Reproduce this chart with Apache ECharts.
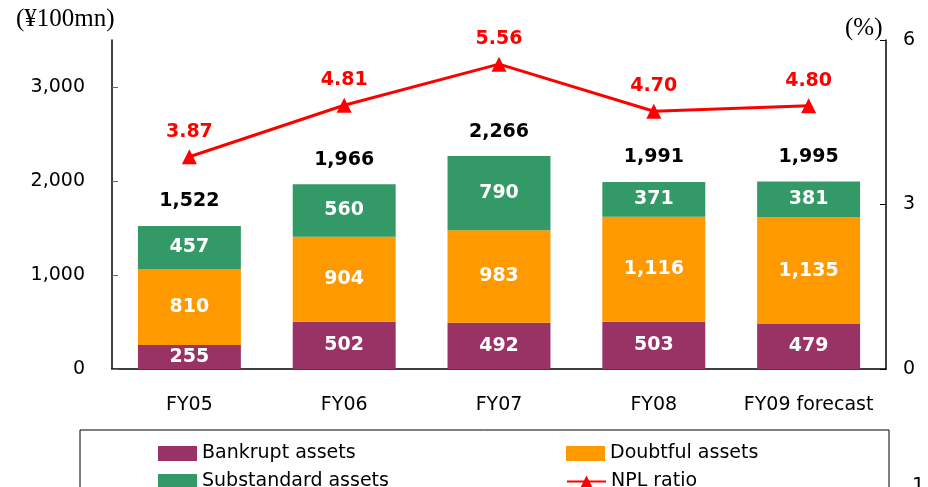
<!DOCTYPE html>
<html>
<head>
<meta charset="utf-8">
<script src="https://cdn.jsdelivr.net/npm/echarts@6/dist/echarts.min.js"></script>
<style>
  html, body { margin: 0; padding: 0; background: #fff; }
  #chart { width: 928px; height: 487px; }
</style>
</head>
<body>
<div id="chart"></div>
<script>
var categories = ['FY05', 'FY06', 'FY07', 'FY08', 'FY09 forecast'];
var bankrupt = [255, 502, 492, 503, 479];
var doubtful = [810, 904, 983, 1116, 1135];
var substandard = [457, 560, 790, 371, 381];
var totals = [1522, 1966, 2266, 1991, 1995];
var nplRatio = [3.87, 4.81, 5.56, 4.70, 4.80];

var gothic = '"DejaVu Sans", "Noto Sans", sans-serif';
var serif = '"Liberation Serif", "DejaVu Serif", serif';

function fmt(v) {
    return v.toLocaleString('en-US');
}

var chart = echarts.init(document.getElementById('chart'));

var innerLabel = {
    show: true,
    position: 'inside',
    color: '#fff',
    fontFamily: gothic,
    fontWeight: 'bold',
    fontSize: 19,
    padding: [3, 0, 0, 0],
    formatter: function (p) { return fmt(p.value); }
};

function legendItem(name, left, top, icon) {
    return {
        data: [name],
        left: left,
        top: top,
        icon: icon,
        itemWidth: 39,
        itemHeight: 15,
        itemGap: 0,
        textStyle: { fontFamily: gothic, fontSize: 19, color: '#000' },
        selectedMode: false
    };
}

var option = {
    animation: false,
    grid: { left: 112, right: 42, top: 40, bottom: 118 },
    legend: [
        legendItem('Bankrupt assets', 153, 439, 'rect'),
        legendItem('Doubtful assets', 561, 439, 'rect'),
        legendItem('Substandard assets', 153, 467, 'rect'),
        legendItem('NPL ratio', 561, 467)
    ],
    xAxis: {
        type: 'category',
        data: categories,
        axisLine: { lineStyle: { color: '#000', width: 1.5 } },
        axisTick: { inside: true, length: 6, lineStyle: { color: '#000' } },
        axisLabel: { interval: 0, margin: 27, color: '#000', fontFamily: gothic, fontSize: 19 }
    },
    yAxis: [
        {
            type: 'value',
            min: 0,
            max: 3500,
            interval: 1000,
            splitLine: { show: false },
            axisLine: { show: true, lineStyle: { color: '#000', width: 1.5 } },
            axisTick: { show: true, inside: true, length: 6, lineStyle: { color: '#666' } },
            axisLabel: {
                showMaxLabel: false,
                margin: 27,
                padding: [3, 0, 0, 0],
                color: '#000',
                fontFamily: gothic,
                fontSize: 19,
                formatter: function (v) { return fmt(v); }
            }
        },
        {
            type: 'value',
            min: 0,
            max: 6,
            interval: 3,
            splitLine: { show: false },
            axisLine: { show: true, lineStyle: { color: '#000', width: 1.5 } },
            axisTick: { show: true, inside: true, length: 6, lineStyle: { color: '#000' } },
            axisLabel: { margin: 17, padding: [3, 0, 0, 0], color: '#000', fontFamily: gothic, fontSize: 19 }
        }
    ],
    series: [
        {
            name: 'Bankrupt assets',
            type: 'bar',
            stack: 'npl',
            barWidth: '66.5%',
            itemStyle: { color: '#993366' },
            label: innerLabel,
            data: bankrupt
        },
        {
            name: 'Doubtful assets',
            type: 'bar',
            stack: 'npl',
            itemStyle: { color: '#FF9900' },
            label: innerLabel,
            data: doubtful
        },
        {
            name: 'Substandard assets',
            type: 'bar',
            stack: 'npl',
            itemStyle: { color: '#339966' },
            label: innerLabel,
            data: substandard
        },
        {
            name: 'total',
            type: 'bar',
            stack: 'npl',
            itemStyle: { color: 'transparent' },
            label: {
                show: true,
                position: 'top',
                distance: 15,
                color: '#000',
                fontFamily: gothic,
                fontWeight: 'bold',
                fontSize: 19,
                formatter: function (p) { return fmt(totals[p.dataIndex]); }
            },
            data: totals.map(function () { return 0; })
        },
        {
            name: 'NPL ratio',
            type: 'line',
            yAxisIndex: 1,
            symbol: 'triangle',
            symbolSize: 15,
            lineStyle: { color: '#FF0000', width: 3 },
            itemStyle: { color: '#FF0000' },
            label: {
                show: true,
                position: 'top',
                distance: 8,
                color: '#FF0000',
                fontFamily: gothic,
                fontWeight: 'bold',
                fontSize: 19,
                formatter: function (p) { return p.value.toFixed(2); }
            },
            data: nplRatio
        }
    ],
    graphic: [
        {
            type: 'text',
            left: 16,
            top: 7,
            style: { text: '(¥100mn)', font: '25px ' + serif, fill: '#000' }
        },
        {
            type: 'text',
            left: 845,
            top: 16,
            style: { text: '(%)', font: '25px ' + serif, fill: '#000' }
        },
        {
            type: 'rect',
            shape: { x: 80, y: 430, width: 809, height: 80 },
            style: { fill: 'none', stroke: '#000', lineWidth: 1 },
            z: -1
        },
        {
            type: 'text',
            left: 912,
            top: 476,
            style: { text: '1', font: '20px ' + gothic, fill: '#000' }
        }
    ]
};

chart.setOption(option);
</script>
</body>
</html>
